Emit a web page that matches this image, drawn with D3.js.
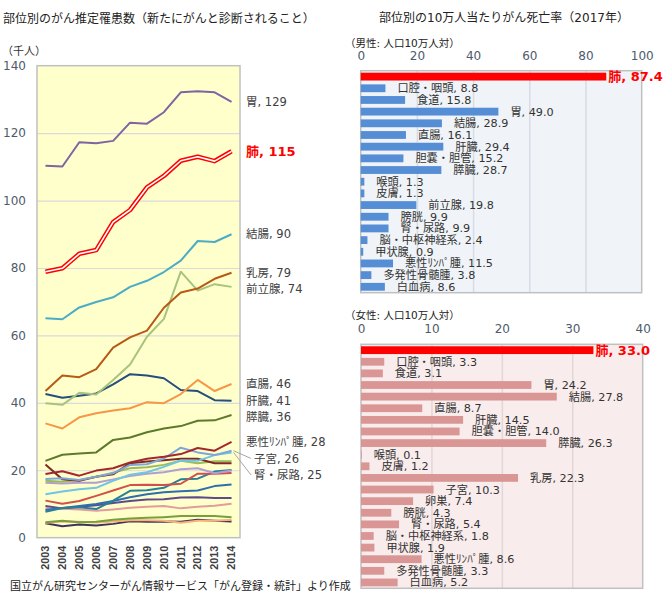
<!DOCTYPE html>
<html><head><meta charset="utf-8">
<script src="https://cdn.jsdelivr.net/npm/d3@7"></script>
<style>body{margin:0;background:#fff}svg{display:block}</style>
</head><body>
<svg id="c" width="668" height="600"></svg>
<script>
// ---------- DATA ----------
const years = [2003,2004,2005,2006,2007,2008,2009,2010,2011,2012,2013,2014];
const yTicks = [0,20,40,60,80,100,120,140];
// 推定罹患数（千人）
const iStomach    = [110.3,110.1,117.3,117.0,117.7,123.1,122.8,126.2,132.1,132.4,132.1,129.3];
const iLung       = [78.9,79.9,84.2,85.3,93.6,97.2,103.9,107.3,111.8,113.0,111.7,114.6];
const iColon      = [65.1,64.8,68.3,69.9,71.3,74.4,76.2,78.8,82.2,88.0,87.7,90.0];
const iBreast     = [43.5,48.1,47.6,50.0,56.4,59.4,61.4,68.2,72.7,73.9,76.8,78.6];
const iProstate   = [39.9,39.4,43.0,42.5,46.8,51.4,59.6,64.9,78.9,73.3,75.2,74.4];
const iRectum     = [33.9,32.4,35.7,36.9,37.7,38.4,40.2,39.9,42.6,46.8,43.5,45.6];
const iLiver      = [42.6,41.5,42.1,42.8,45.5,48.5,48.1,47.3,43.8,43.5,40.8,40.6];
const iPancreas   = [22.8,24.6,25.0,25.3,29.0,29.7,31.3,32.4,33.1,34.7,34.8,36.4];
const iLymphoma   = [18.9,19.7,18.4,19.9,20.6,22.3,23.4,24.0,24.8,26.6,25.8,28.4];
const iUterus     = [17.4,17.6,17.1,18.1,19.1,21.6,21.8,23.5,26.7,25.3,24.5,25.8];
const iKidney     = [12.9,13.7,14.4,14.8,16.9,18.7,19.4,21.0,22.9,22.8,24.5,25.3];
const iEsophagus  = [21.7,17.3,16.9,18.1,18.8,22.1,22.6,23.0,23.4,23.4,22.1,22.1];
const iOral       = [16.9,16.6,17.1,18.1,19.3,20.6,20.9,21.6,22.8,22.1,22.7,22.7];
const iGallbladder= [16.3,16.1,16.3,16.3,17.3,18.3,19.0,19.4,20.3,20.6,19.1,19.9];
const iBladder    = [11.0,10.1,10.9,12.4,14.0,15.6,15.7,15.6,16.0,19.0,19.0,19.2];
const iSkin       = [7.7,8.8,9.0,8.5,11.0,13.9,14.1,14.8,17.3,17.5,19.6,20.1];
const iThyroid    = [8.2,8.8,9.4,10.0,10.9,12.0,12.9,13.5,13.8,14.0,15.3,15.8];
const iLeukemia   = [9.4,8.7,9.2,9.6,10.3,10.9,11.3,11.4,11.9,12.0,11.8,11.8];
const iOvary      = [8.7,8.6,8.4,8.0,8.4,8.9,9.2,9.4,8.7,9.2,9.5,10.1];
const iMyeloma    = [4.6,5.0,4.6,4.7,5.3,5.7,5.9,6.1,6.4,6.4,6.4,6.1];
const iBrain      = [4.4,4.8,4.7,4.5,4.8,5.2,5.2,5.0,4.4,5.0,5.0,5.3];
const iLarynx     = [4.3,3.4,3.9,3.6,4.1,4.9,4.7,4.8,4.7,5.3,5.0,4.8];

// 部位別 10万人当たり死亡率（2017年）
const maleSites = ["肺","口腔・咽頭","食道","胃","結腸","直腸","肝臓","胆嚢・胆管","膵臓","喉頭","皮膚","前立腺","膀胱","腎・尿路","脳・中枢神経系","甲状腺","悪性ﾘﾝﾊﾟ腫","多発性骨髄腫","白血病"];
const maleRates = [87.4,8.8,15.8,49.0,28.9,16.1,29.4,15.2,28.7,1.3,1.3,19.8,9.9,9.9,2.4,0.9,11.5,3.8,8.6];
const maleTicks = [0,20,40,60,80,100];
const femaleSites = ["肺","口腔・咽頭","食道","胃","結腸","直腸","肝臓","胆嚢・胆管","膵臓","喉頭","皮膚","乳房","子宮","卵巣","膀胱","腎・尿路","脳・中枢神経系","甲状腺","悪性ﾘﾝﾊﾟ腫","多発性骨髄腫","白血病"];
const femaleRates = [33.0,3.3,3.1,24.2,27.8,8.7,14.5,14.0,26.3,0.1,1.2,22.3,10.3,7.4,4.3,5.4,1.8,1.9,8.6,3.3,5.2];
const femaleTicks = [0,10,20,30,40];

// ---------- SERIES TABLE (built from arrays) ----------
const series = [
  {name:"喉頭", values:iLarynx, color:"#3F3160"},
  {name:"脳・中枢神経系", values:iBrain, color:"#F9B27A"},
  {name:"多発性骨髄腫", values:iMyeloma, color:"#77A03C"},
  {name:"卵巣", values:iOvary, color:"#E39B9B"},
  {name:"白血病", values:iLeukemia, color:"#5F4B8B"},
  {name:"甲状腺", values:iThyroid, color:"#2E6EB0"},
  {name:"皮膚", values:iSkin, color:"#26809A"},
  {name:"膀胱", values:iBladder, color:"#D0504D"},
  {name:"胆嚢・胆管", values:iGallbladder, color:"#B09FD0"},
  {name:"口腔・咽頭", values:iOral, color:"#9BBB59"},
  {name:"食道", values:iEsophagus, color:"#7F2A26"},
  {name:"腎・尿路", values:iKidney, color:"#70C4E4", label:true},
  {name:"子宮", values:iUterus, color:"#7DA7D9", label:true},
  {name:"悪性ﾘﾝﾊﾟ腫", values:iLymphoma, color:"#A3282D", label:true},
  {name:"膵臓", values:iPancreas, color:"#5C7A2A", label:true},
  {name:"肝臓", values:iLiver, color:"#254E7E", label:true},
  {name:"直腸", values:iRectum, color:"#F79646", label:true},
  {name:"前立腺", values:iProstate, color:"#A7C37E", label:true},
  {name:"乳房", values:iBreast, color:"#B65A15", label:true},
  {name:"結腸", values:iColon, color:"#4BACC6", label:true},
  {name:"胃", values:iStomach, color:"#8064A2", label:true},
  {name:"肺", values:iLung, color:"#FF0000", label:true, lung:true}
];

// ---------- DRAW ----------
const JP = "'Noto Sans CJK JP', sans-serif";
const MIX = "'DejaVu Sans', 'Noto Sans CJK JP', sans-serif";
const svg = d3.select("#c");
svg.append("rect").attr("width",668).attr("height",600).attr("fill","#fff");

// Left chart
const L = {x0:37, x1:240, y0:65.7, y1:537.7};
const x = d3.scaleBand().domain(years).range([L.x0, L.x1]);
const xc = d => x(d) + x.bandwidth()/2;
const y = d3.scaleLinear().domain([0,140]).range([L.y1, L.y0]);

svg.append("text").attr("x",3).attr("y",23).attr("font-family",JP).attr("font-size",12).attr("fill","#222")
  .text("部位別のがん推定罹患数（新たにがんと診断されること）");
svg.append("text").attr("x",2).attr("y",55).attr("font-family",JP).attr("font-size",11).attr("fill","#333")
  .text("（千人）");

svg.append("rect").attr("x",L.x0).attr("y",L.y0).attr("width",L.x1-L.x0).attr("height",L.y1-L.y0)
  .attr("fill","#FFFFCC");
svg.append("g").attr("transform",`translate(${L.x0},0)`)
  .call(d3.axisLeft(y).tickValues(yTicks.filter(t=>t>0 && t<140)).tickSize(-(L.x1-L.x0)).tickFormat(""))
  .call(g=>g.select(".domain").remove())
  .call(g=>g.selectAll("line").attr("stroke","#DADADA").attr("stroke-width",1.2));
svg.append("rect").attr("x",L.x0).attr("y",L.y0).attr("width",L.x1-L.x0).attr("height",L.y1-L.y0)
  .attr("fill","none").attr("stroke","#C0C0C0").attr("stroke-width",1.5);

svg.append("g").attr("transform",`translate(${L.x0},0)`)
  .call(d3.axisLeft(y).tickValues(yTicks).tickSize(0).tickPadding(11))
  .call(g=>g.select(".domain").remove())
  .call(g=>g.selectAll("text").attr("font-family","'DejaVu Sans', sans-serif").attr("font-size",12).attr("fill","#4D5B6C"));
svg.append("g").attr("transform",`translate(0,${L.y1})`)
  .call(d3.axisBottom(x).tickSize(0))
  .call(g=>g.select(".domain").remove())
  .call(g=>g.selectAll("text").attr("transform","rotate(-90)").attr("text-anchor","end")
     .attr("x",-8).attr("y",0).attr("dy","0.35em")
     .attr("font-family","'Liberation Sans', Arial, sans-serif").attr("font-size",10.8).attr("font-weight","bold").attr("fill","#404040"));

const line = d3.line().x((d,i)=>xc(years[i])).y(d=>y(d));
const lg = svg.append("g");
series.forEach(s=>{
  if (s.lung) {
    lg.append("path").attr("d",line(s.values)).attr("fill","none").attr("stroke",s.color).attr("stroke-width",4.6).attr("stroke-linejoin","round");
    lg.append("path").attr("d",line(s.values)).attr("fill","none").attr("stroke","#fff").attr("stroke-width",1.6).attr("stroke-linejoin","round");
  } else {
    lg.append("path").attr("d",line(s.values)).attr("fill","none").attr("stroke",s.color).attr("stroke-width",2).attr("stroke-linejoin","round");
  }
});

const labs = series.filter(s=>s.label).map(s=>{
  const v = s.values[s.values.length-1];
  return {s, v, py:y(v), ly:y(v)};
}).sort((a,b)=>a.py-b.py);
for (let i=1;i<labs.length;i++){ if (labs[i].ly < labs[i-1].ly + 16.5) labs[i].ly = labs[i-1].ly + 16.5; }
const lastX = xc(years[years.length-1]);
labs.forEach(l=>{
  const moved = Math.abs(l.ly - l.py) > 5;
  const lx = moved ? 254 : 246;
  if (moved) {
    svg.append("line").attr("x1",lastX+2).attr("y1",l.py).attr("x2",lx-3).attr("y2",l.ly)
      .attr("stroke","#A6A6A6").attr("stroke-width",1);
  }
  svg.append("text").attr("x",lx).attr("y",l.ly).attr("dy","0.36em")
    .attr("font-family",MIX).attr("font-size", l.s.lung?13:11.5)
    .attr("fill", l.s.lung?"#FF0000":"#404040").attr("font-weight", l.s.lung?"bold":"normal")
    .text(`${l.s.name}, ${Math.round(l.v)}`);
});

svg.append("text").attr("x",10).attr("y",590).attr("font-family",JP).attr("font-size",11).attr("fill","#222")
  .text("国立がん研究センターがん情報サービス「がん登録・統計」より作成");

// Right charts
svg.append("text").attr("x",504).attr("y",22).attr("text-anchor","middle").attr("font-family",MIX).attr("font-size",12).attr("fill","#222")
  .text("部位別の10万人当たりがん死亡率（2017年）");

function barChart(cfg){
  const bx = d3.scaleLinear().domain([0, cfg.ticks[cfg.ticks.length-1]]).range([cfg.x0, cfg.x1]);
  const by = d3.scaleBand().domain(cfg.sites).range([cfg.y0, cfg.y1]).paddingInner(0.33).paddingOuter(0.17);
  svg.append("text").attr("x",345).attr("y",cfg.subY).attr("font-family",MIX).attr("font-size",10.5).attr("fill","#222").text(cfg.sub);
  svg.append("rect").attr("x",cfg.x0).attr("y",cfg.y0).attr("width",cfg.x1-cfg.x0).attr("height",cfg.y1-cfg.y0).attr("fill",cfg.bg);
  svg.append("g").attr("transform",`translate(0,${cfg.y1})`)
    .call(d3.axisTop(bx).tickValues(cfg.ticks.slice(1,-1)).tickSize(cfg.y1-cfg.y0).tickFormat(""))
    .call(g=>g.select(".domain").remove())
    .call(g=>g.selectAll("line").attr("stroke",cfg.grid).attr("stroke-width",1.5));
  svg.append("rect").attr("x",cfg.x0).attr("y",cfg.y0).attr("width",cfg.x1-cfg.x0).attr("height",cfg.y1-cfg.y0)
    .attr("fill","none").attr("stroke","#C0C0C0").attr("stroke-width",1.5);
  svg.append("g").attr("transform",`translate(0,${cfg.y0})`)
    .call(d3.axisTop(bx).tickValues(cfg.ticks).tickSize(0).tickPadding(11))
    .call(g=>g.select(".domain").remove())
    .call(g=>g.selectAll("text").attr("font-family","'DejaVu Sans', sans-serif").attr("font-size",12).attr("fill","#4D5B6C"));
  const data = cfg.sites.map((s,i)=>({s, v:cfg.values[i], lung:s==="肺"}));
  svg.append("g").selectAll("rect").data(data).join("rect")
    .attr("x",bx(0)).attr("y",d=>by(d.s)).attr("width",d=>bx(d.v)-bx(0)).attr("height",by.bandwidth())
    .attr("fill",d=>d.lung?"#FF0000":cfg.bar);
  svg.append("g").selectAll("text").data(data).join("text")
    .attr("x",d=>bx(d.v)+(d.lung?2:12)).attr("y",d=>by(d.s)+by.bandwidth()/2).attr("dy","0.36em")
    .attr("font-family",MIX).attr("font-size",d=>d.lung?13:11.2).attr("font-weight",d=>d.lung?"bold":"normal")
    .attr("fill",d=>d.lung?"#FF0000":"#333")
    .text(d=>`${d.s}, ${d.v.toFixed(1)}`);
}
barChart({sites:maleSites, values:maleRates, ticks:maleTicks, x0:360.7, x1:641.7, y0:70.7, y1:292.7,
  bg:"#F0F4F8", grid:"#D6DCE4", bar:"#558ED5", sub:"（男性: 人口10万人対）", subY:47});
barChart({sites:femaleSites, values:femaleRates, ticks:femaleTicks, x0:361, x1:642.7, y0:344.3, y1:588.3,
  bg:"#F9ECEC", grid:"#E2D6D6", bar:"#D99694", sub:"（女性: 人口10万人対）", subY:319});
</script>
</body></html>
